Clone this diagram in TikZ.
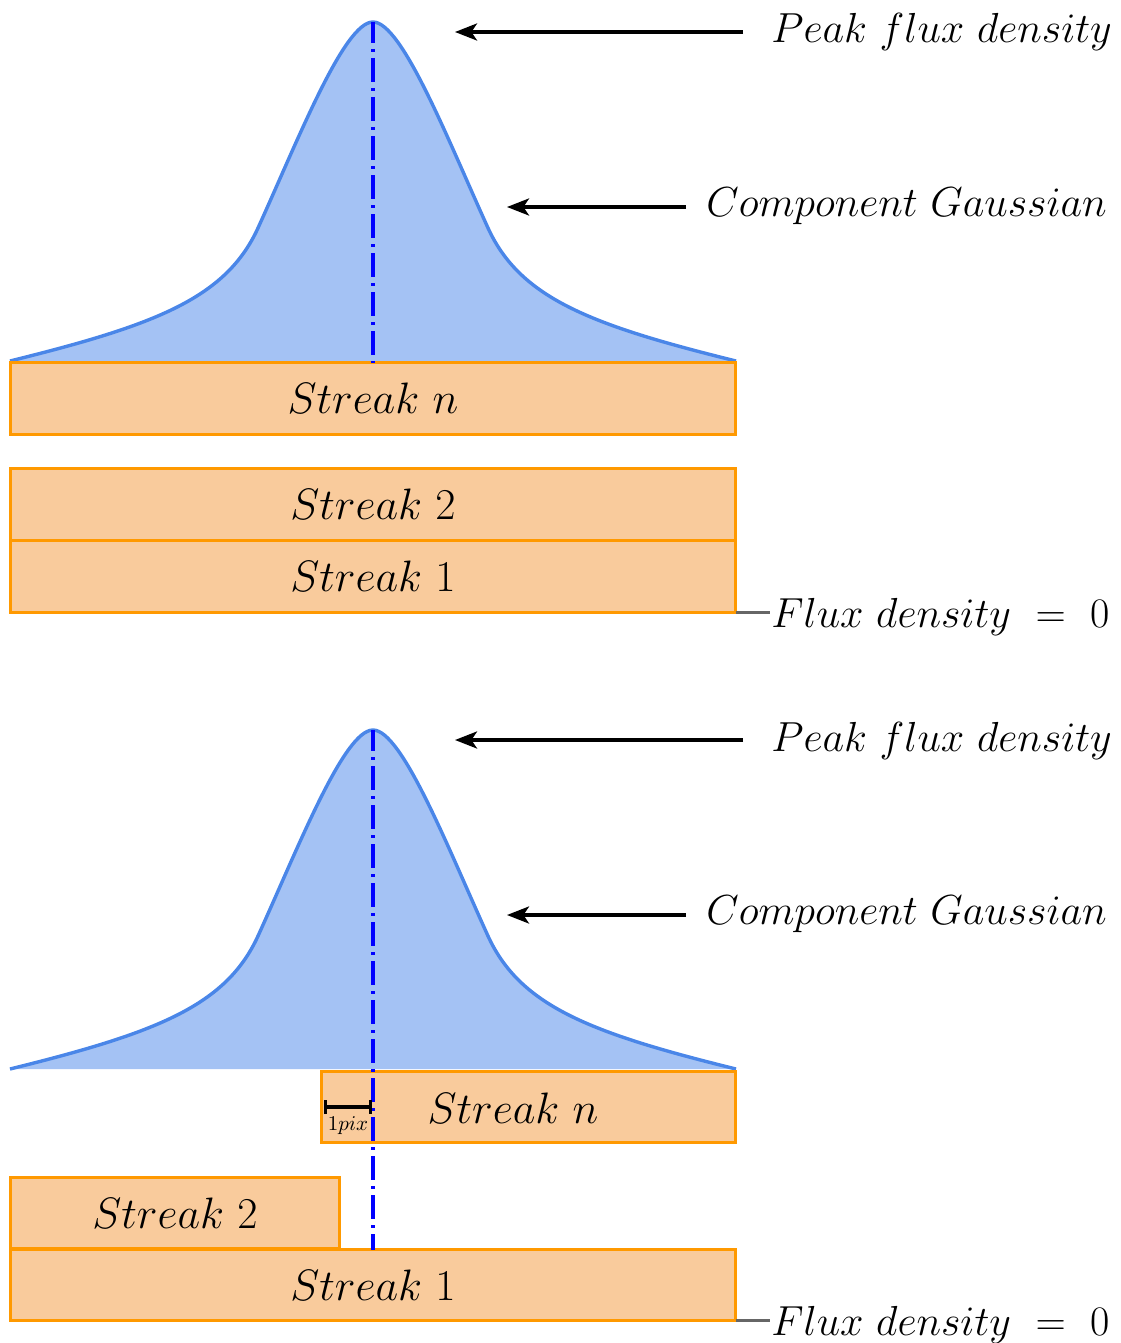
\documentclass[tikz,border=0pt]{standalone}
\usepackage{fix-cm}
\usetikzlibrary{arrows.meta}
\definecolor{gfill}{HTML}{A4C2F4}
\definecolor{gline}{HTML}{4A86E8}
\definecolor{bfill}{HTML}{F9CB9C}
\definecolor{bline}{HTML}{FF9900}
\definecolor{ddline}{HTML}{0000FF}
\definecolor{zline}{HTML}{666666}
\newcommand\mygauss{%
  \fill[gfill] (10,361) .. controls (156,325) and (226,298) .. (258,228)
    .. controls (298,140) and (344,22) .. (373,22)
    .. controls (402,22) and (448,140) .. (488,228)
    .. controls (520,298) and (590,325) .. (736,361) -- cycle;
  \draw[gline, line width=1.7pt] (10,361) .. controls (156,325) and (226,298) .. (258,228)
    .. controls (298,140) and (344,22) .. (373,22)
    .. controls (402,22) and (448,140) .. (488,228)
    .. controls (520,298) and (590,325) .. (736,361);}
\begin{document}
\begin{tikzpicture}[x=0.5pt,y=-0.5pt,
  box/.style={draw=bline, fill=bfill, line width=1.9pt, inner sep=0pt, outer sep=0pt, anchor=north west, font=\fontsize{22}{26}\selectfont},
  lbl/.style={font=\fontsize{21}{25}\selectfont, inner sep=0pt},
  arr/.style={line width=1.7pt, -{Stealth[length=11pt,width=8.5pt,inset=2.8pt]}},
  ddash/.style={ddline, line width=1.9pt, dash pattern=on 12pt off 3pt on 1.5pt off 3pt, dash phase=1.5pt},
  zero/.style={zline, line width=1.7pt}]
\useasboundingbox (0,0) rectangle (1120,1343);

% ---------- top panel ----------
\mygauss
\node[box, minimum width=362.5pt, minimum height=36pt] (sn) at (10.5,362.5) {$Streak\ n$};
\node[box, minimum width=362.5pt, minimum height=36pt] (s2) at (10.5,468.5) {$Streak\ 2$};
\node[box, minimum width=362.5pt, minimum height=36pt] (s1) at (10.5,540.5) {$Streak\ 1$};
\coordinate (pk) at (373,22);
\draw[ddash] (pk) -- (sn.north);

\node[lbl, anchor=base west] (peak) at (771,43) {$Peak\ flux\ density$};
\node[lbl, anchor=base west] (comp) at (706,216) {$Component\ Gaussian$};
\node[lbl, anchor=base west] (flux) at (771,627) {$Flux\ density\ =\ 0$};
\coordinate (pa) at (743,32); \coordinate (pb) at (455,32);
\coordinate (ca) at (686,207); \coordinate (cb) at (507,207);
\coordinate (fz) at (770,612.5);
\draw[arr] (pa) -- (pb);
\draw[arr] (ca) -- (cb);
\draw[zero] (s1.south east) -- (fz);

% ---------- bottom panel ----------
\begin{scope}[yshift=-354pt]
\mygauss
\end{scope}
\node[box, minimum width=207pt, minimum height=35.5pt] (bsn) at (321.5,1071.5) {};
\node[box, draw=none, fill=none, anchor=center] (bsnl) at (513,1108) {$Streak\ n$};
\node[box, minimum width=164.5pt, minimum height=35.5pt] (bs2) at (10.5,1177.5) {$Streak\ 2$};
\node[box, minimum width=362.5pt, minimum height=35.5pt] (bs1) at (10.5,1249.5) {$Streak\ 1$};
\coordinate (bpk) at (373,730);
\coordinate (bend) at (373,1249.5);
\draw[ddash] (bpk) -- (bend);

\coordinate (pxa) at (324,1107); \coordinate (pxb) at (372,1107);
\draw[line width=1.7pt, {Bar[width=7pt]}-{Bar[width=7pt]}] (pxa) -- (pxb);
\node[font=\fontsize{10.5}{12}\selectfont, inner sep=0pt] (pxl) at (348,1126) {$1pix$};

\node[lbl, anchor=base west] (bpeak) at (771,751) {$Peak\ flux\ density$};
\node[lbl, anchor=base west] (bcomp) at (706,924) {$Component\ Gaussian$};
\node[lbl, anchor=base west] (bflux) at (771,1335) {$Flux\ density\ =\ 0$};
\coordinate (bpa) at (743,740); \coordinate (bpb) at (455,740);
\coordinate (bca) at (686,915); \coordinate (bcb) at (507,915);
\coordinate (bfz) at (770,1320.5);
\draw[arr] (bpa) -- (bpb);
\draw[arr] (bca) -- (bcb);
\draw[zero] (bs1.south east) -- (bfz);
\end{tikzpicture}
\end{document}
